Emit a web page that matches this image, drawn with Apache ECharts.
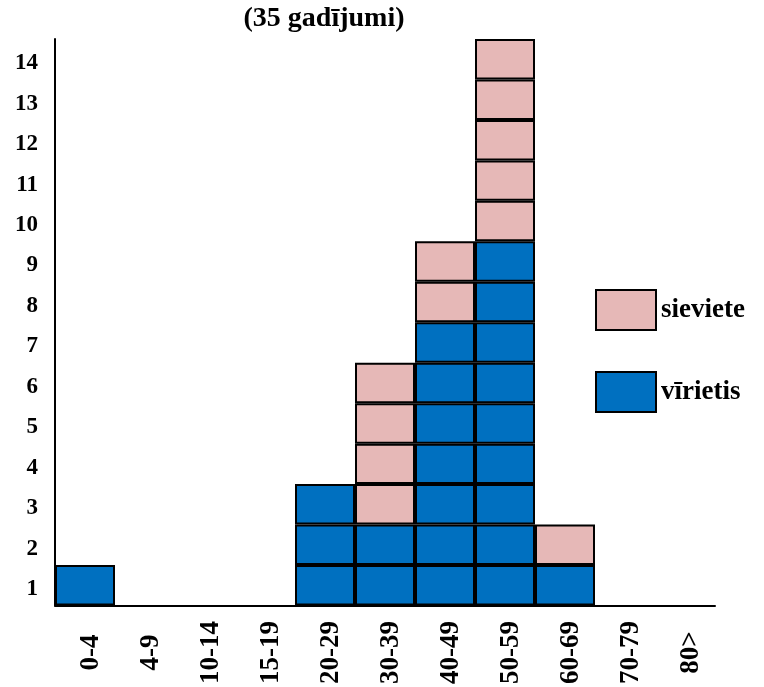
<!DOCTYPE html>
<html>
<head>
<meta charset="utf-8">
<script src="https://cdn.jsdelivr.net/npm/echarts@6/dist/echarts.min.js"></script>
<style>html,body{margin:0;padding:0;background:#fff;}#c{width:764px;height:687px;}</style>
</head>
<body>
<div id="c"></div>
<script>
const categories = ['0-4','4-9','10-14','15-19','20-29','30-39','40-49','50-59','60-69','70-79','80>'];
const male = [1,0,0,0,3,2,7,9,1,0,0];
const female = [0,0,0,0,0,4,2,5,1,0,0];
const yTickLabels = ['1','2','3','4','5','6','7','8','9','10','11','12','13','14'];
const titleText = '(35 gadījumi)';
const maleName = 'vīrietis';
const femaleName = 'sieviete';

const BLUE = '#0070C0';
const PINK = '#E6B8B7';
const FONT = '"Liberation Serif", "Times New Roman", serif';

const series = [];
const maxMale = Math.max.apply(null, male);
const maxFemale = Math.max.apply(null, female);
for (let u = 0; u < maxMale; u++) {
  series.push({
    type: 'bar', name: maleName, stack: 'total', barWidth: '100%',
    data: male.map(m => u < m ? 1 : '-'),
    itemStyle: { color: BLUE, borderColor: '#000', borderWidth: 2 },
    silent: true
  });
}
for (let u = 0; u < maxFemale; u++) {
  series.push({
    type: 'bar', name: femaleName, stack: 'total', barWidth: '100%',
    data: female.map(f => u < f ? 1 : '-'),
    itemStyle: { color: PINK, borderColor: '#000', borderWidth: 2 },
    silent: true
  });
}

const chart = echarts.init(document.getElementById('c'), null, { renderer: 'canvas' });
chart.setOption({
  animation: false,
  backgroundColor: '#fff',
  title: {
    text: titleText, left: 324, top: 5, textAlign: 'center', padding: 0,
    textStyle: { fontFamily: FONT, fontWeight: 'bold', fontSize: 28, color: '#000' }
  },
  legend: {
    orient: 'vertical', left: 595, top: 289, padding: 0,
    itemWidth: 60, itemHeight: 40, itemGap: 40, icon: 'rect',
    data: [femaleName, maleName],
    textStyle: { fontFamily: FONT, fontWeight: 'bold', fontSize: 27, color: '#000' },
    selectedMode: false
  },
  grid: { left: 55, right: 49, top: 39, bottom: 77, containLabel: false },
  xAxis: {
    type: 'category', data: categories,
    axisLine: { lineStyle: { color: '#000', width: 2 } },
    axisTick: { show: false },
    axisLabel: {
      interval: 0, rotate: 90, align: 'center', verticalAlign: 'top', lineHeight: 12, margin: 47,
      fontFamily: FONT, fontWeight: 'bold', fontSize: 27, color: '#000'
    }
  },
  yAxis: [
    {
      type: 'value', min: 0, max: 14, interval: 1,
      axisLine: { show: true, lineStyle: { color: '#000', width: 2 } },
      axisTick: { show: false }, axisLabel: { show: false }, splitLine: { show: false }
    },
    {
      type: 'category', data: yTickLabels, position: 'left', boundaryGap: true,
      axisLine: { show: false }, axisTick: { show: false }, splitLine: { show: false },
      axisLabel: { margin: 17, verticalAlign: 'top', lineHeight: 8,
        fontFamily: FONT, fontWeight: 'bold', fontSize: 23, color: '#000' }
    }
  ],
  series: series
});
</script>
</body>
</html>
